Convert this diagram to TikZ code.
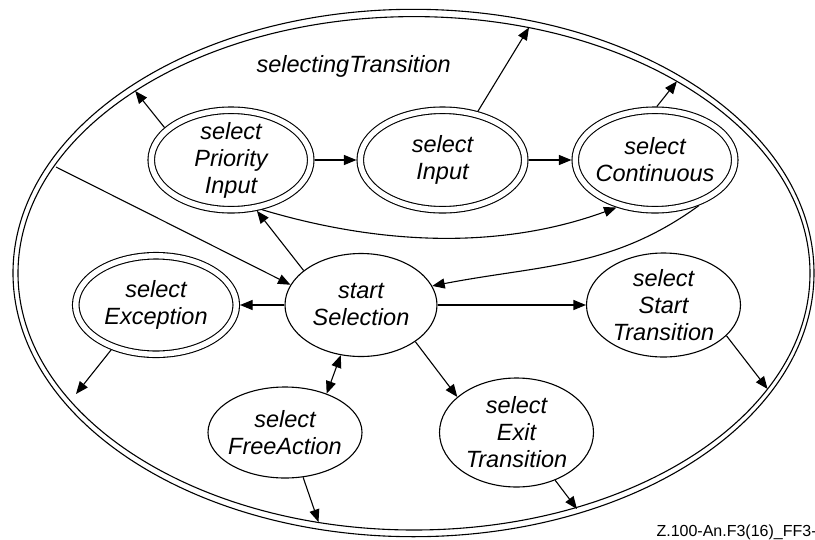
\documentclass[tikz,border=0pt]{standalone}
\usepackage{fontspec}
\setmainfont{Liberation Sans}
\usetikzlibrary{arrows.meta,shapes.geometric}
\begin{document}
\begin{tikzpicture}[x=1pt,y=-1pt,
  every node/.style={font=\fontsize{23.5}{27}\selectfont\itshape, align=center},
  st/.style={ellipse, draw, line width=1.1pt, inner sep=-20pt, outer sep=0.55pt},
  dst/.style={ellipse, draw, line width=1.1pt, double, double distance=5.4pt, inner sep=-20pt, outer sep=3.8pt},
  ring/.style={ellipse, draw, line width=1.1pt, inner sep=0pt},
  arr/.style={line width=1.1pt, -{Triangle[length=12.5pt,width=10pt]}},
  darr/.style={line width=1.1pt, {Triangle[length=12.5pt,width=10pt]}-{Triangle[length=12.5pt,width=10pt]}}
]
\useasboundingbox (0,0) rectangle (815,539);
\node[ring, minimum width=801pt, minimum height=527.4pt] (outerring) at (413.5,273) {};
\node[ring, minimum width=792pt, minimum height=513.4pt] (innerring) at (414,273.3) {};

\node[anchor=base west] (title) at (253,72) {selectingTransition};

\node[dst, minimum width=159.5pt, minimum height=99.5pt] (spi) at (231,160) {select\\Priority\\Input};
\node[dst, minimum width=164.5pt, minimum height=99.5pt] (si) at (442.5,160) {select\\Input};
\node[dst, minimum width=159.5pt, minimum height=99.5pt] (sc) at (655,160) {select\\Continuous};
\node[dst, minimum width=160.5pt, minimum height=98.5pt] (se) at (156,305) {select\\Exception};
\node[st, minimum width=152pt, minimum height=103pt] (ss) at (361,305) {start\\Selection};
\node[st, minimum width=154pt, minimum height=104pt] (sst) at (663.5,305) {select\\Start\\Transition};
\node[st, minimum width=154pt, minimum height=91pt] (sfa) at (285,432.5) {select\\FreeAction};
\node[st, minimum width=154pt, minimum height=109pt] (set) at (516.5,432.5) {select\\Exit\\Transition};

\coordinate (c1) at (135.2,91);
\coordinate (c3) at (529,27.5);
\coordinate (c5) at (676.9,81.3);
\coordinate (c8) at (56,167);
\coordinate (c14) at (76,394);
\coordinate (c15) at (318.5,522);
\coordinate (c16) at (577,509);
\coordinate (c17) at (767.6,389);

\draw[arr] (spi.154.8) -- (c1);
\draw[arr] (spi) -- (si);
\draw[arr] (si.54.6) -- (c3);
\draw[arr] (si) -- (sc);
\draw[arr] (sc.88) -- (c5);
\draw[arr] (spi.-58.6) .. controls (380,245) and (500,250) .. (sc.-129.6);
\draw[arr] (sc.-46.2) .. controls (612.4,268.4) and (542.2,264.7) .. (ss.15.8);
\draw[arr] (c8) -- (ss.164.5);
\draw[arr] (ss.149) -- (spi.-63);
\draw[arr] (ss) -- (se);
\draw[arr] (ss) -- (sst);
\draw[darr] (ss.-112.2) -- (sfa.43.2);
\draw[arr] (ss.-34) -- (set.149.2);
\draw[arr] (se.-135.3) -- (c14);
\draw[arr] (sfa.-68.4) -- (c15);
\draw[arr] (set.-51) -- (c16);
\draw[arr] (sst.-26) -- (c17);

\node[anchor=base west, font=\fontsize{16}{19}\selectfont] (code) at (653,536.5) {Z.100-An.F3(16)\_FF3-};
\end{tikzpicture}
\end{document}
